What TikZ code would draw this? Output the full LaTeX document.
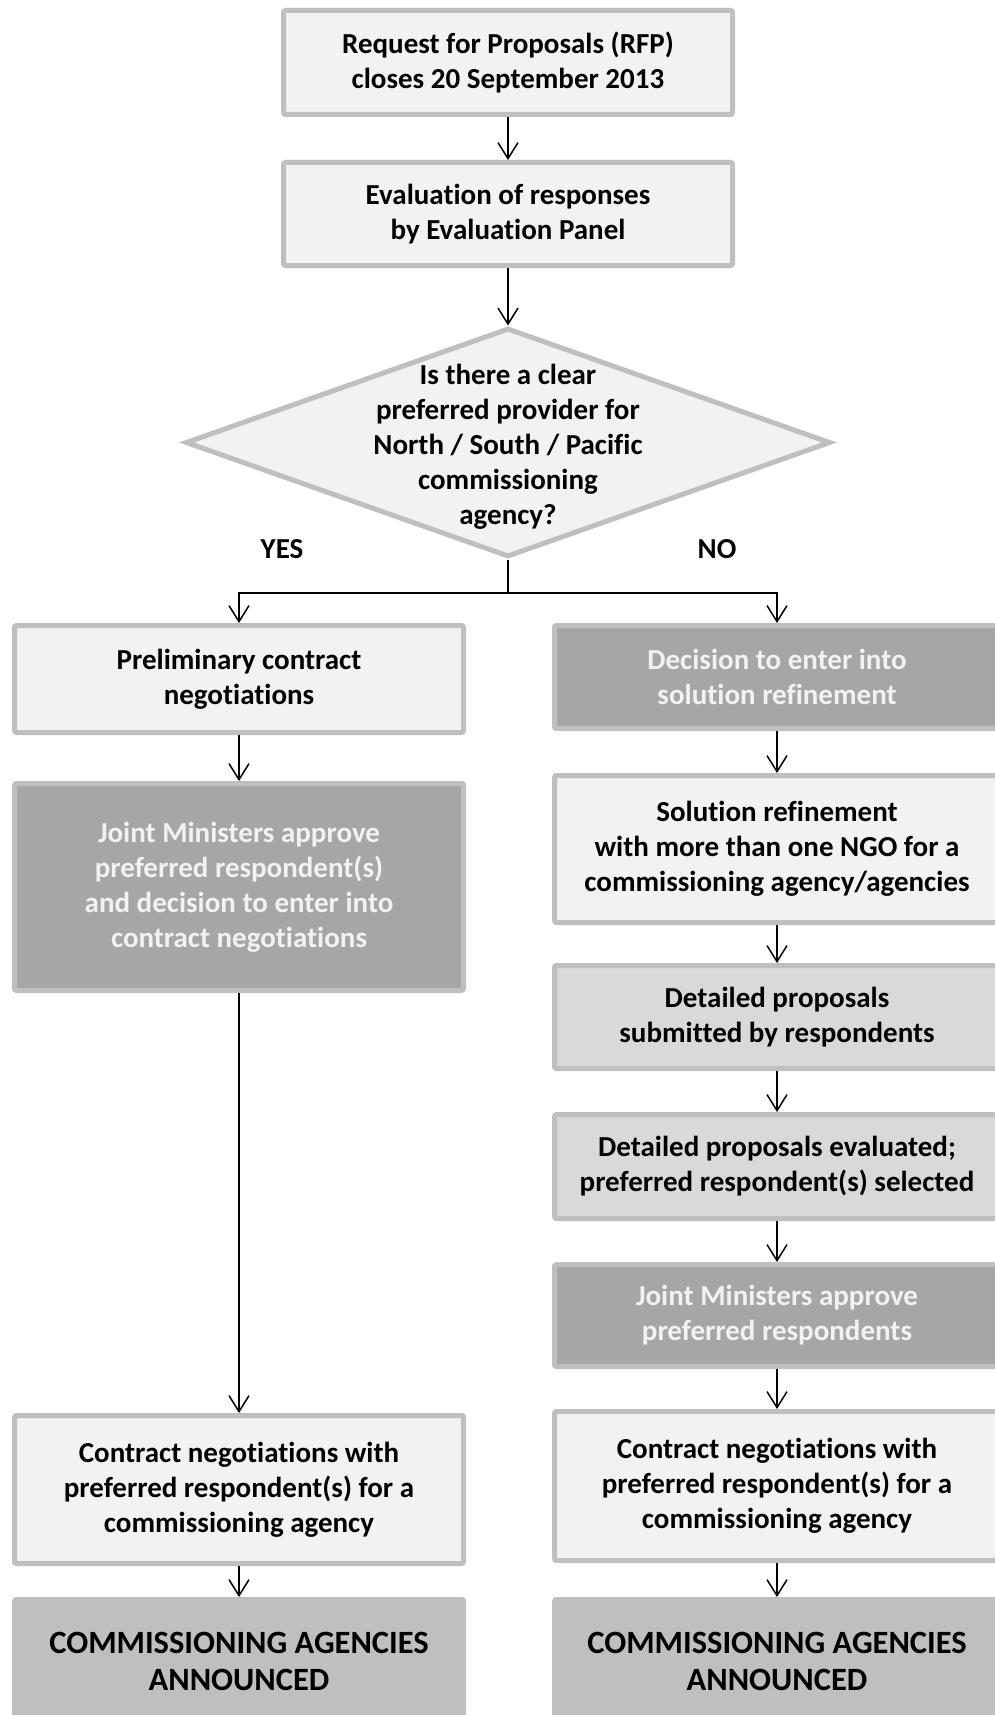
\documentclass[tikz,border=0pt]{standalone}
\usepackage{fontspec}
\setmainfont[Ligatures=NoCommon]{Carlito}
\usetikzlibrary{shapes.geometric,arrows.meta}
\definecolor{bordergray}{HTML}{BFBFBF}
\definecolor{lightfill}{HTML}{F2F2F2}
\definecolor{midfill}{HTML}{D9D9D9}
\definecolor{darkfill}{HTML}{A6A6A6}
\definecolor{commfill}{HTML}{BFBFBF}
\tikzset{
  base/.style={draw=bordergray, line width=5pt, rounded corners=2pt, inner sep=0pt,
    align=center, font=\fontsize{29}{35}\selectfont\bfseries},
  lightbox/.style={base, fill=lightfill, text=black},
  midbox/.style={base, fill=midfill, text=black},
  darkbox/.style={base, fill=darkfill, text=lightfill},
  commbox/.style={base, fill=commfill, draw=commfill, text=black,
    font=\fontsize{32.5}{37}\selectfont\bfseries},
  lbl/.style={inner sep=0pt, font=\fontsize{29}{35}\selectfont\bfseries},
  flow/.style={line width=1.5pt, -{Straight Barb[length=16pt,width=20pt]}},
  plain/.style={line width=1.5pt},
}
\begin{document}
\begin{tikzpicture}[x=1pt,y=-1pt]
\useasboundingbox (0,0) rectangle (994,1715);
% top
\node[lightbox, minimum width=449pt, minimum height=104pt] (rfp) at (508,62.5)
  {Request for Proposals (RFP)\\closes 20 September 2013};
\node[lightbox, minimum width=449pt, minimum height=103pt] (eval) at (508,214)
  {Evaluation of responses\\by Evaluation Panel};
\node[diamond, draw=bordergray, line width=5pt, fill=lightfill, inner sep=0pt,
  minimum width=645pt, minimum height=229pt] (q) at (508,442.5) {};
\node[lbl, align=center] (qt) at (508,447)
  {Is there a clear\\preferred provider for\\North / South / Pacific\\commissioning\\agency?};
\node[lbl] (yes) at (282,549) {YES};
\node[lbl] (no) at (717,549) {NO};
\coordinate (split) at (508,593);
% left column
\node[lightbox, minimum width=449pt, minimum height=107pt] (prelim) at (239,679)
  {Preliminary contract\\negotiations};
\node[darkbox, minimum width=449pt, minimum height=207pt] (jointL) at (239,887)
  {Joint Ministers approve\\preferred respondent(s)\\and decision to enter into\\contract negotiations};
\node[lightbox, minimum width=449pt, minimum height=148pt] (contractL) at (239,1489.5)
  {Contract negotiations with\\preferred respondent(s) for a\\commissioning agency};
\node[commbox, minimum width=449pt, minimum height=123pt] (commL) at (239,1661)
  {COMMISSIONING AGENCIES\\ANNOUNCED};
% right column
\node[darkbox, minimum width=445pt, minimum height=103pt] (decision) at (777,677)
  {Decision to enter into\\solution refinement};
\node[lightbox, minimum width=445pt, minimum height=147pt] (solution) at (777,849)
  {Solution refinement\\with more than one NGO for a\\commissioning agency/agencies};
\node[midbox, minimum width=445pt, minimum height=103pt] (submitted) at (777,1017)
  {Detailed proposals\\submitted by respondents};
\node[midbox, minimum width=445pt, minimum height=104pt] (evaluated) at (777,1166.5)
  {Detailed proposals evaluated;\\preferred respondent(s) selected};
\node[darkbox, minimum width=445pt, minimum height=102pt] (jointR) at (777,1315.5)
  {Joint Ministers approve\\preferred respondents};
\node[lightbox, minimum width=445pt, minimum height=149pt] (contractR) at (777,1486)
  {Contract negotiations with\\preferred respondent(s) for a\\commissioning agency};
\node[commbox, minimum width=445pt, minimum height=123pt] (commR) at (777,1661)
  {COMMISSIONING AGENCIES\\ANNOUNCED};
% connectors
\draw[flow] (rfp.south) -- (eval.north);
\draw[flow] (eval.south) -- (q.north);
\draw[plain] (q.south) -- (split);
\draw[flow] (split) -| (prelim.north);
\draw[flow] (split) -| (decision.north);
\draw[flow] (prelim.south) -- (jointL.north);
\draw[flow] (jointL.south) -- (contractL.north);
\draw[flow] (contractL.south) -- (commL.north);
\draw[flow] (decision.south) -- (solution.north);
\draw[flow] (solution.south) -- (submitted.north);
\draw[flow] (submitted.south) -- (evaluated.north);
\draw[flow] (evaluated.south) -- (jointR.north);
\draw[flow] (jointR.south) -- (contractR.north);
\draw[flow] (contractR.south) -- (commR.north);
\end{tikzpicture}
\end{document}
